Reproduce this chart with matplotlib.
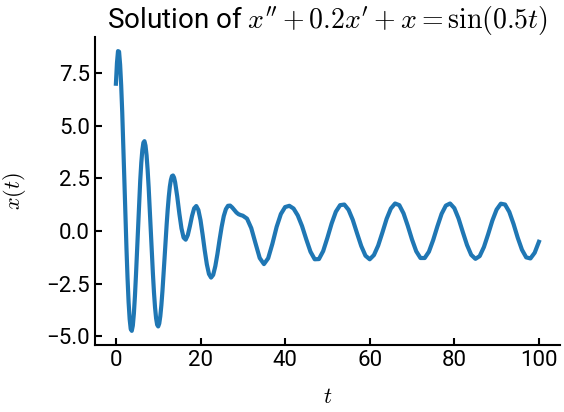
import numpy as np
import matplotlib.pyplot as plt

# values
t_early = [0, 0.25, 0.5, 0.75, 1, 1.25, 1.5, 1.75, 2, 2.25, 2.5, 2.75, 3, 3.25, 3.5, 3.75,
           4, 4.25, 4.5, 4.75, 5, 5.25, 5.5, 5.75, 6, 6.25, 6.5, 6.75, 7, 7.25, 7.5, 7.75,
           8, 8.25, 8.5, 8.75, 9, 9.25, 9.5, 9.75, 10, 10.25, 10.5, 10.75, 11, 11.25, 11.5,
           11.75, 12, 12.25, 12.5, 12.75, 13, 13.25, 13.5, 13.75, 14]
x_early = [7.00, 7.99, 8.55, 8.52, 7.90, 6.91, 5.62, 4.08, 2.42, 0.75, -0.83, -2.23, -3.37,
           -4.18, -4.65, -4.74, -4.49, -3.92, -3.09, -2.07, -0.93, 0.25, 1.38, 2.40, 3.24,
           3.85, 4.20, 4.27, 4.06, 3.60, 2.91, 2.05, 1.06, 0.01, -1.04, -2.03, -2.91, -3.62,
           -4.14, -4.45, -4.53, -4.39, -4.04, -3.52, -2.86, -2.10, -1.29, -0.47, 0.32, 1.03,
           1.63, 2.11, 2.43, 2.61, 2.64, 2.54, 2.32]

t_mid = [14.5, 15, 15.5, 16, 16.5, 17, 17.5, 18, 18.5, 19, 19.5, 20, 20.5, 21, 21.5, 22,
         22.5, 23, 23.5, 24, 24.5, 25, 25.5, 26, 26.5, 27, 27.5, 28, 28.5, 29, 29.5, 30]
x_mid = [1.64, 0.83, 0.13, -0.31, -0.41, -0.19, 0.24, 0.72, 1.08, 1.19, 1.00, 0.52, -0.17,
         -0.92, -1.58, -2.04, -2.21, -2.08, -1.67, -1.09, -0.42, 0.20, 0.71, 1.04, 1.20,
         1.21, 1.12, 1.00, 0.88, 0.80, 0.76, 0.73]

t_late = [31, 32, 33, 34, 35, 36, 37, 38, 39, 40, 41, 42, 43, 44, 45, 46, 47, 48, 49, 50,
          51, 52, 53, 54, 55, 56, 57, 58, 59, 60, 61, 62, 63, 64, 65, 66, 67, 68, 69, 70,
          71, 72, 73, 74, 75, 76, 77, 78, 79, 80, 81, 82, 83, 84, 85, 86, 87, 88, 89, 90,
          91, 92, 93, 94, 95, 96, 97, 98, 99, 100]
x_late = [0.59, 0.14, -0.58, -1.28, -1.57, -1.29, -0.60, 0.20, 0.81, 1.14, 1.20, 1.07, 0.74,
          0.24, -0.39, -0.98, -1.34, -1.33, -0.95, -0.32, 0.36, 0.92, 1.23, 1.26, 1.01,
          0.53, -0.10, -0.71, -1.17, -1.34, -1.14, -0.69, -0.07, 0.58, 1.07, 1.31, 1.23,
          0.84, 0.25, -0.40, -0.96, -1.28, -1.28, -0.98, -0.43, 0.22, 0.82, 1.21, 1.31,
          1.09, 0.60, -0.04, -0.66, -1.13, -1.32, -1.19, -0.76, -0.15, 0.50, 1.02, 1.30,
          1.26, 0.91, 0.34, -0.32, -0.89, -1.25, -1.30, -1.03, -0.51]

t = np.array(t_early + t_mid + t_late)
x = np.array(x_early + x_mid + x_late)

plt.rcParams['font.family'] = ['Roboto', 'DejaVu Sans']
plt.rcParams['mathtext.fontset'] = 'cm'

fig, ax = plt.subplots(figsize=(5.64, 4.12), dpi=100)
fig.subplots_adjust(left=0.168, right=0.993, bottom=0.163, top=0.910)

ax.plot(t, x, color='#1f77b4', linewidth=3)
ax.set_title(r"Solution of $x'' + 0.2x' + x = \sin(0.5t)$", fontsize=20)
ax.set_xlabel('$t$', fontsize=16, labelpad=12)
ax.set_ylabel('$x(t)$', fontsize=16, labelpad=13)

ax.spines[['top', 'right']].set_visible(False)
for side in ['left', 'bottom']:
    ax.spines[side].set_linewidth(1.5)
ax.tick_params(direction='in', labelsize=16, width=1.5, length=5)

fig.savefig('out.png')
